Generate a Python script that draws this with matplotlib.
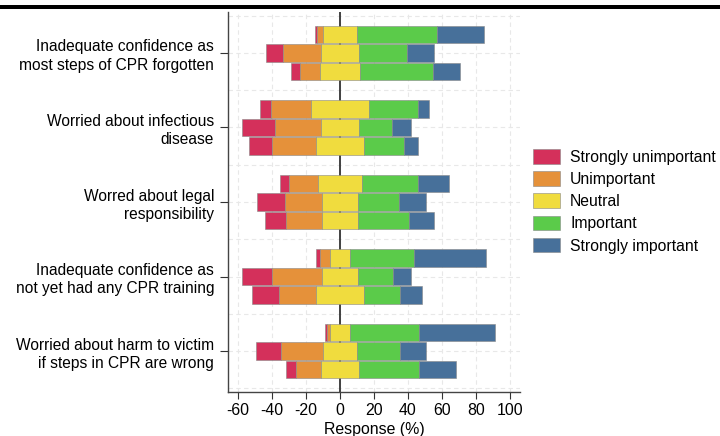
import numpy as np
import matplotlib
matplotlib.use('Agg')
import matplotlib.pyplot as plt
from matplotlib.patches import Rectangle

plt.rcParams['font.family'] = ['Liberation Sans', 'DejaVu Sans']
plt.rcParams['axes.unicode_minus'] = False

# Data (percent of responses), three bars per item, top to bottom
items = ['Inadequate confidence as\nmost steps of CPR forgotten',
         'Worried about infectious\ndisease',
         'Worred about legal\nresponsibility',
         'Inadequate confidence as\nnot yet had any CPR training',
         'Worried about harm to victim\nif steps in CPR are wrong']
levels = ['Strongly unimportant', 'Unimportant', 'Neutral', 'Important', 'Strongly important']
colors = ['#D4305B', '#E5913A', '#F0DC3E', '#5BCB4A', '#47709A']

strongly_unimp = [1.0, 10.2, 5.3,   6.3, 19.4, 13.5,   5.1, 16.7, 12.0,   2.4, 18.0, 15.7,   1.4, 15.1, 5.5]
unimp          = [3.5, 22.5, 11.8,  24.1, 27.5, 25.7,  17.1, 21.8, 21.4,  5.9, 29.0, 21.8,   2.0, 24.5, 15.1]
neutral        = [20.4, 22.2, 23.9, 33.7, 22.2, 28.8,  26.1, 20.8, 21.4,  12.2, 21.6, 28.8,  11.4, 20.0, 21.9]
important      = [47.1, 28.4, 42.8, 29.0, 19.6, 23.1,  32.7, 24.3, 30.2,  37.3, 20.6, 21.2,  40.6, 25.1, 35.3]
strongly_imp   = [27.6, 16.1, 16.1, 6.5, 11.2, 8.6,    18.6, 16.1, 14.7,  42.4, 10.6, 12.4,  44.7, 15.3, 22.2]

vals = np.array([strongly_unimp, unimp, neutral, important, strongly_imp])
ypos = np.repeat(np.arange(len(items)), 3) + np.tile([-0.25, 0.0, 0.25], len(items))

fig = plt.figure(figsize=(7.2, 4.36), dpi=100)
ax = fig.add_axes([228/720, 1 - 392/436, (520 - 228)/720, (392 - 12)/436])

# bars start left of zero by the negative part plus half the neutral share
left = -(vals[0] + vals[1] + vals[2] / 2)
for k in range(5):
    ax.barh(ypos, vals[k], left=left, height=0.235, color=colors[k],
            edgecolor='#888888', linewidth=0.4, label=levels[k], zorder=3)
    left = left + vals[k]

ax.axvline(0, color='#333333', lw=1.3, zorder=2)

ax.set_xlim(-66, 106)
ax.set_ylim(4.55, -0.55)
ax.set_xticks(np.arange(-60, 101, 20))
ax.set_yticks(np.arange(len(items)))
ax.set_yticklabels(items, fontsize=11.2, linespacing=1.28)
ax.set_yticks(np.arange(-0.5, 4.6, 0.5), minor=True)
ax.tick_params(axis='y', which='minor', length=0)
ax.tick_params(axis='y', which='major', length=6, pad=4, color='#333333')
ax.tick_params(axis='x', length=5, labelsize=11.4, color='#333333', pad=3)
ax.grid(True, which='both', color='#e8e8e8', lw=0.8, ls=(0, (4, 3)), zorder=0)
ax.set_axisbelow(True)
ax.set_xlabel('Response (%)', fontsize=11.4, labelpad=3)

for s in ['top', 'right']:
    ax.spines[s].set_visible(False)
for s in ['left', 'bottom']:
    ax.spines[s].set_color('#444444')
    ax.spines[s].set_linewidth(1.0)

ax.legend(loc='upper left', bbox_to_anchor=(533/720, 1 - 149/436),
          bbox_transform=fig.transFigure, frameon=False, fontsize=11.3,
          handlelength=1.75, handleheight=1.05, handletextpad=0.62,
          labelspacing=0.42, borderpad=0, borderaxespad=0)

# thick black rule along the top edge
fig.add_artist(Rectangle((0, 1 - 9/436), 1, 4/436, transform=fig.transFigure,
                         color='black', lw=0))

fig.savefig('out.png', dpi=100)
